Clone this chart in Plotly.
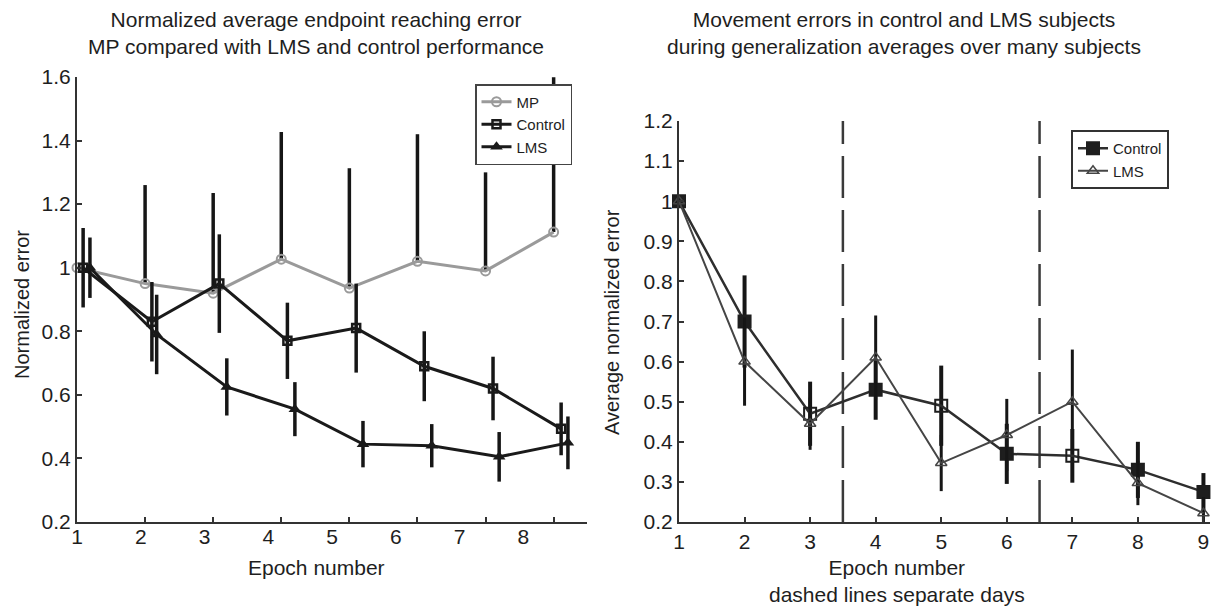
import plotly.graph_objects as go

# ---------------- Left panel data ----------------
mp_epoch = [1, 2, 3, 4, 5, 6, 7, 8]
mp_error = [1.0, 0.95, 0.92, 1.027, 0.936, 1.02, 0.99, 1.112]
mp_err_up = [0.0, 0.31, 0.315, 0.40, 0.377, 0.40, 0.31, 0.487]
mp_err_down = [0.0, 0.0, 0.0, 0.0, 0.0, 0.0, 0.0, 0.0]

ctl_epoch_l = [1.09, 2.10, 3.09, 4.09, 5.10, 6.10, 7.11, 8.11]
ctl_error_l = [1.0, 0.83, 0.95, 0.77, 0.81, 0.69, 0.62, 0.493]
ctl_sd_l = [0.125, 0.125, 0.155, 0.12, 0.14, 0.11, 0.10, 0.083]

lms_epoch_l = [1.19, 2.17, 3.20, 4.20, 5.20, 6.21, 7.20, 8.21]
lms_error_l = [1.0, 0.79, 0.625, 0.555, 0.445, 0.44, 0.405, 0.449]
lms_sd_l = [0.095, 0.125, 0.09, 0.085, 0.073, 0.068, 0.078, 0.083]

left_tick_epochs = [1, 2, 3, 4, 5, 6, 7, 8]
left_tick_labels = ["1", "2", "3", "4", "5", "6", "7", "8"]
left_y_ticks = [0.2, 0.4, 0.6, 0.8, 1.0, 1.2, 1.4, 1.6]
left_y_labels = ["0.2", "0.4", "0.6", "0.8", "1", "1.2", "1.4", "1.6"]

# ---------------- Right panel data ----------------
epoch_r = [1, 2, 3, 4, 5, 6, 7, 8, 9]
ctl_error_r = [1.0, 0.70, 0.47, 0.53, 0.49, 0.37, 0.365, 0.33, 0.275]
ctl_sd_r = [0.0, 0.115, 0.08, 0.075, 0.10, 0.075, 0.067, 0.07, 0.047]
lms_error_r = [1.0, 0.60, 0.445, 0.61, 0.347, 0.417, 0.50, 0.297, 0.222]
lms_sd_r = [0.0, 0.11, 0.065, 0.105, 0.07, 0.09, 0.13, 0.055, 0.04]
day_boundaries = [3.5, 6.5]

right_tick_labels = ["1", "2", "3", "4", "5", "6", "7", "8", "9"]
right_y_ticks = [0.2, 0.3, 0.4, 0.5, 0.6, 0.7, 0.8, 0.9, 1.0, 1.1, 1.2]
right_y_labels = ["0.2", "0.3", "0.4", "0.5", "0.6", "0.7", "0.8", "0.9", "1", "1.1", "1.2"]

FONT = "Liberation Sans, Arial, Helvetica, sans-serif"
TXT = "#1e1e1e"
AX = "#333333"
BAR = "#161616"

fig = go.Figure()

# Left panel
fig.add_trace(go.Scatter(
    x=mp_epoch, y=mp_error, name="MP", mode="lines+markers",
    line=dict(color="#9a9a9a", width=3),
    marker=dict(symbol="circle-open", size=9, color="#9a9a9a", line=dict(width=2)),
    error_y=dict(type="data", symmetric=False, array=mp_err_up, arrayminus=mp_err_down,
                 color=BAR, thickness=3.5, width=0),
    xaxis="x", yaxis="y", legend="legend", cliponaxis=False))
fig.add_trace(go.Scatter(
    x=ctl_epoch_l, y=ctl_error_l, name="Control", mode="lines+markers",
    line=dict(color="#1a1a1a", width=3),
    marker=dict(symbol="square-open", size=8, color="#1a1a1a", line=dict(width=2.5)),
    error_y=dict(type="data", array=ctl_sd_l, color=BAR, thickness=3.5, width=0),
    xaxis="x", yaxis="y", legend="legend", cliponaxis=False))
fig.add_trace(go.Scatter(
    x=lms_epoch_l, y=lms_error_l, name="LMS", mode="lines+markers",
    line=dict(color="#1a1a1a", width=3),
    marker=dict(symbol="triangle-up", size=11, color="#1a1a1a"),
    error_y=dict(type="data", array=lms_sd_l, color=BAR, thickness=3.5, width=0),
    xaxis="x", yaxis="y", legend="legend", cliponaxis=False))
# carrier for the label axis of the left panel
fig.add_trace(go.Scatter(x=[], y=[], xaxis="x3", yaxis="y", showlegend=False,
                         hoverinfo="skip"))

# Right panel
ctl_symbols = ["square", "square", "square-open", "square", "square-open",
               "square", "square-open", "square", "square"]
fig.add_trace(go.Scatter(
    x=epoch_r, y=ctl_error_r, name="Control", mode="lines+markers",
    line=dict(color="#2e2e2e", width=2.5),
    marker=dict(symbol=ctl_symbols, size=12, color="#1e1e1e", line=dict(width=2, color="#1e1e1e")),
    error_y=dict(type="data", array=ctl_sd_r, color=BAR, thickness=4, width=0),
    xaxis="x2", yaxis="y2", legend="legend2", cliponaxis=False))
fig.add_trace(go.Scatter(
    x=epoch_r, y=lms_error_r, name="LMS", mode="lines+markers",
    line=dict(color="#454545", width=2),
    marker=dict(symbol="triangle-up-open", size=10, color="#454545", line=dict(width=1.5)),
    error_y=dict(type="data", array=lms_sd_r, color=BAR, thickness=3, width=0),
    xaxis="x2", yaxis="y2", legend="legend2", cliponaxis=False))

for xb in day_boundaries:
    fig.add_shape(type="line", xref="x2", yref="y2", x0=xb, x1=xb,
                  y0=right_y_ticks[0], y1=right_y_ticks[-1],
                  line=dict(color="#3a3a3a", width=2.5, dash="42px,12px"), layer="below")

axis_common = dict(showline=True, linecolor=AX, linewidth=2, ticks="inside",
                   ticklen=5, tickwidth=1.5, tickcolor=AX, showgrid=False,
                   zeroline=False, automargin=False,
                   tickfont=dict(family=FONT, size=21, color=TXT))

fig.update_layout(
    width=1220, height=610, autosize=False,
    margin=dict(l=0, r=0, t=0, b=0, pad=0, autoexpand=False),
    paper_bgcolor="white", plot_bgcolor="white",
    font=dict(family=FONT, color=TXT),
    xaxis=dict(domain=[77 / 1220, 587 / 1220], range=[1, 8.49], anchor="y",
               tickmode="array", tickvals=left_tick_epochs, showticklabels=False,
               **axis_common),
    xaxis3=dict(overlaying="x", anchor="y", range=[1, 9], side="bottom",
                tickmode="array", tickvals=left_tick_epochs, ticktext=left_tick_labels,
                ticks="", showline=False, showgrid=False, zeroline=False,
                automargin=False,
                tickfont=dict(family=FONT, size=21, color=TXT)),
    yaxis=dict(domain=[88 / 610, 533 / 610], range=[0.2, 1.6], anchor="x",
               tickmode="array", tickvals=left_y_ticks, ticktext=left_y_labels,
               **axis_common),
    xaxis2=dict(domain=[679 / 1220, 1210 / 1220], range=[1, 9.1], anchor="y2",
                tickmode="array", tickvals=epoch_r, ticktext=right_tick_labels,
                **axis_common),
    yaxis2=dict(domain=[88 / 610, 489 / 610], range=[0.2, 1.2], anchor="x2",
                tickmode="array", tickvals=right_y_ticks, ticktext=right_y_labels,
                **axis_common),
    legend=dict(x=475 / 1220, y=1 - 84 / 610, xanchor="left", yanchor="top",
                bgcolor="white", bordercolor="#444", borderwidth=1.5,
                font=dict(family=FONT, size=15, color=TXT),
                tracegroupgap=0, itemwidth=30),
    legend2=dict(x=1071 / 1220, y=1 - 130 / 610, xanchor="left", yanchor="top",
                 bgcolor="white", bordercolor="#333", borderwidth=2,
                 font=dict(family=FONT, size=15, color=TXT),
                 tracegroupgap=0, itemwidth=30),
    showlegend=True,
)

ann = dict(xref="paper", yref="paper", showarrow=False,
           font=dict(family=FONT, size=21, color=TXT))
fig.add_annotation(text="Normalized average endpoint reaching error<br>MP compared with LMS and control performance",
                   x=316 / 1220, y=1 - 33 / 610, xanchor="center", yanchor="middle", **ann)
fig.add_annotation(text="Movement errors in control and LMS subjects<br>during generalization averages over many subjects",
                   x=904 / 1220, y=1 - 33 / 610, xanchor="center", yanchor="middle", **ann)
fig.add_annotation(text="Normalized error", x=22 / 1220, y=1 - 305 / 610, textangle=-90,
                   xanchor="center", yanchor="middle",
                   **{**ann, "font": dict(family=FONT, size=20, color=TXT)})
fig.add_annotation(text="Average normalized error", x=612 / 1220, y=1 - 322 / 610, textangle=-90,
                   xanchor="center", yanchor="middle",
                   **{**ann, "font": dict(family=FONT, size=20, color=TXT)})
fig.add_annotation(text="Epoch number", x=316 / 1220, y=1 - 567 / 610,
                   xanchor="center", yanchor="middle", **ann)
fig.add_annotation(text="Epoch number<br>dashed lines separate days", x=897 / 1220, y=1 - 581 / 610,
                   xanchor="center", yanchor="middle", **ann)

fig.write_html("out.html")
